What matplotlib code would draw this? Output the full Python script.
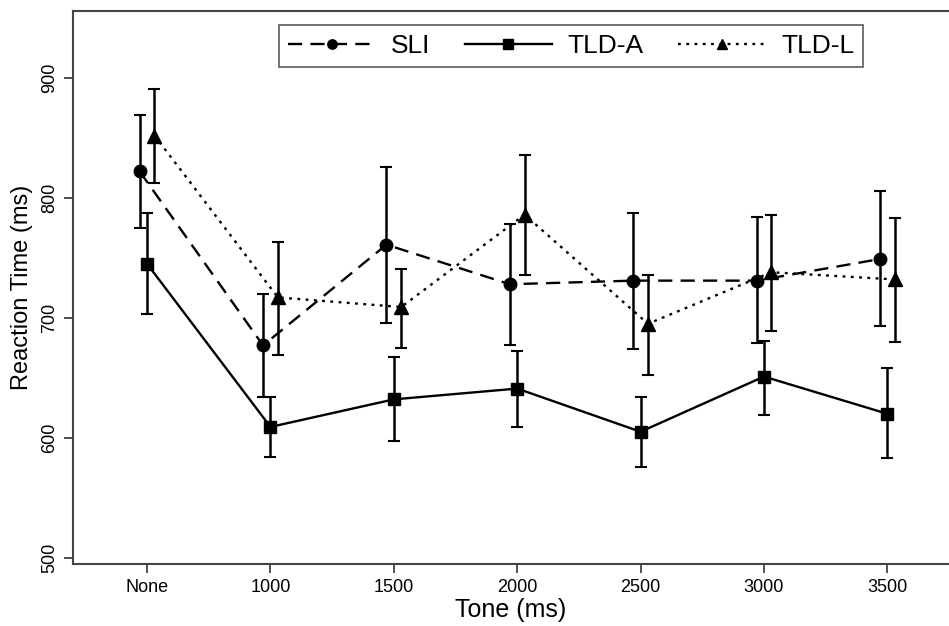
import numpy as np
import matplotlib
matplotlib.use('Agg')
import matplotlib.pyplot as plt

plt.rcParams['font.family'] = ['Liberation Sans', 'DejaVu Sans']

# Tone conditions
tones = ['None', '1000', '1500', '2000', '2500', '3000', '3500']

# Mean reaction time and error bar ends (ms)
sli = [822, 677, 761, 728, 731, 731, 749]
sli_hi = [869, 720, 826, 778, 787, 784, 806]
sli_lo = [775, 634, 696, 677, 674, 679, 693]

tld_a = [745, 609, 632, 641, 605, 651, 620]
tld_a_hi = [787, 634, 667, 672, 634, 681, 658]
tld_a_lo = [703, 584, 597, 609, 576, 619, 583]

tld_l = [852, 717, 709, 786, 695, 738, 732]
tld_l_hi = [891, 763, 741, 836, 736, 786, 783]
tld_l_lo = [812, 669, 675, 736, 652, 689, 680]

x = np.arange(len(tones))
offset = 0.06

fig = plt.figure(figsize=(9.49, 6.26), dpi=100)
ax = fig.add_axes([0.077, 0.099, 0.923, 0.883])


def draw(xpos, mean, hi, lo, ls, marker, ms, label):
    mean = np.array(mean)
    err = [mean - np.array(lo), np.array(hi) - mean]
    ax.errorbar(xpos, mean, yerr=err, fmt='none', ecolor='black',
                elinewidth=1.8, capsize=4.3, capthick=1.5, zorder=2)
    ax.plot(xpos, mean, color='black', linestyle=ls, linewidth=1.7,
            marker=marker, markersize=ms, markerfacecolor='black',
            markeredgecolor='black', label=label, zorder=3)


draw(x - offset, sli, sli_hi, sli_lo, (0, (6, 3.5)), 'o', 9, 'SLI')
draw(x, tld_a, tld_a_hi, tld_a_lo, '-', 's', 9, 'TLD-A')
draw(x + offset, tld_l, tld_l_hi, tld_l_lo, (0, (1.2, 2.3)), '^', 9.5, 'TLD-L')

ax.set_xlim(-0.6, 6.5)
ax.set_ylim(494.7, 955.6)
ax.set_xticks(x)
ax.set_xticklabels(tones, fontsize=13)
ax.set_yticks([500, 600, 700, 800, 900])
ax.set_yticklabels(['500', '600', '700', '800', '900'], fontsize=13,
                   rotation=90, va='center')
ax.tick_params(length=6.5, width=1.2, color='#333333', pad=4)

for side in ['left', 'bottom', 'top']:
    ax.spines[side].set_linewidth(1.5)
    ax.spines[side].set_color('#444444')
ax.spines['right'].set_visible(False)

ax.set_xlabel('Tone (ms)', fontsize=18, labelpad=2)
ax.set_ylabel('Reaction Time (ms)', fontsize=17, labelpad=6)

leg = ax.legend(loc='center', bbox_to_anchor=(0.5685, 0.937), ncol=3,
                fontsize=19, frameon=True, fancybox=False, numpoints=1,
                handlelength=3.3, handletextpad=0.6, columnspacing=1.3,
                borderpad=0.35, markerscale=0.75)
leg.get_frame().set_edgecolor('#333333')
leg.get_frame().set_linewidth(1.2)

fig.savefig('out.png', dpi=100)
